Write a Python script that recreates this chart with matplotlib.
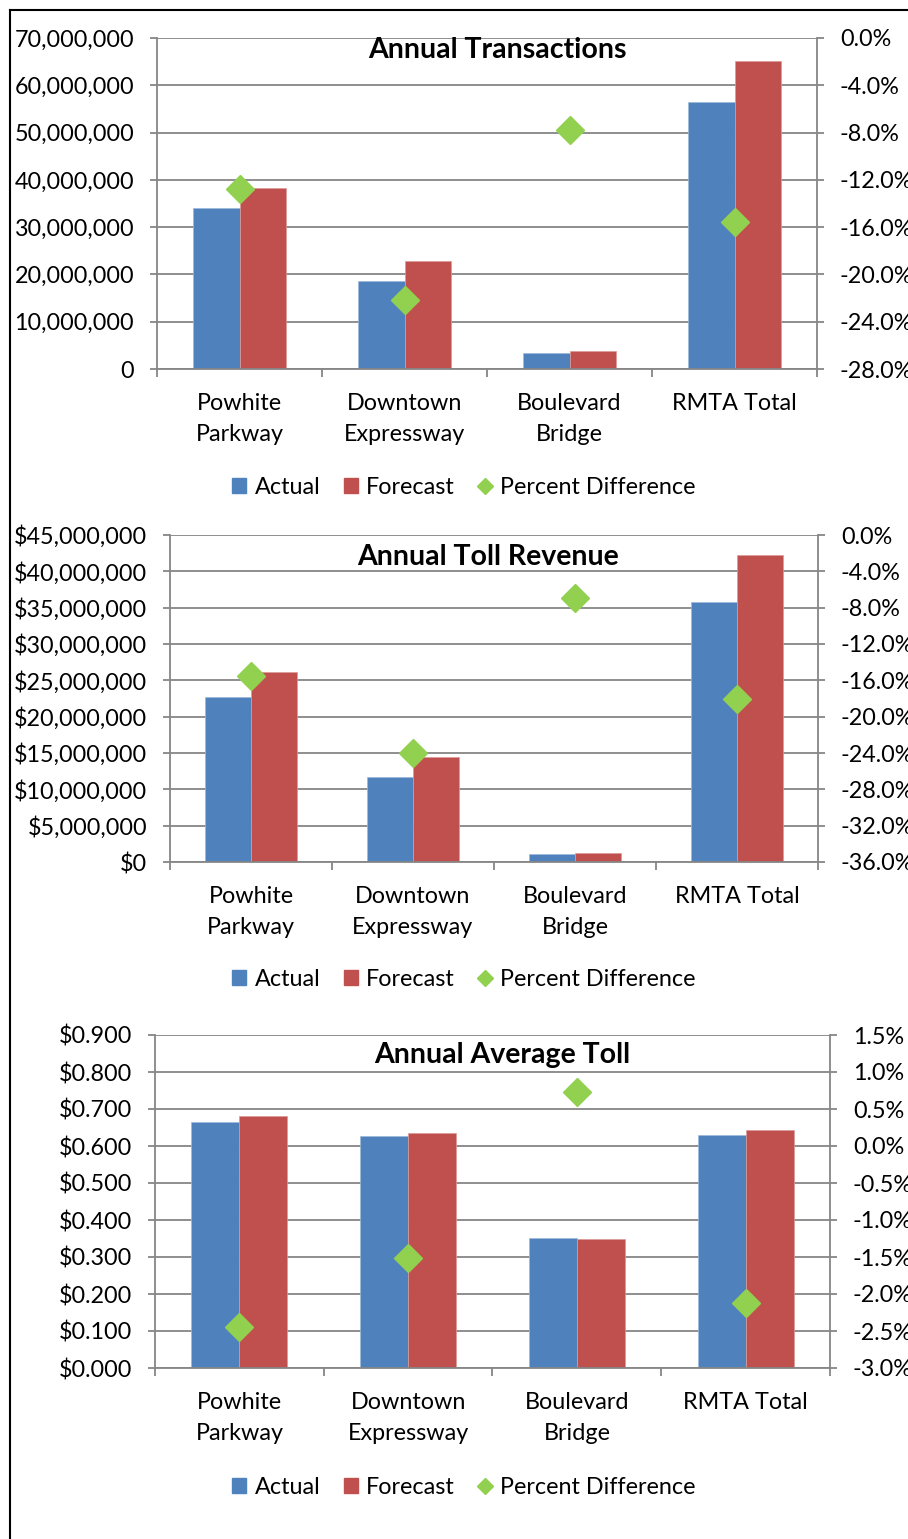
import numpy as np
import matplotlib
matplotlib.use('Agg')
import matplotlib.pyplot as plt
from matplotlib.patches import Patch
from matplotlib.lines import Line2D
from matplotlib.ticker import FuncFormatter, MultipleLocator

plt.rcParams['font.family'] = ['Lato', 'DejaVu Sans']

W, H = 908, 1539
FS = 16.8

categories = ['Powhite\nParkway', 'Downtown\nExpressway', 'Boulevard\nBridge', 'RMTA Total']

trans_actual = [34.05e6, 18.6e6, 3.4e6, 56.5e6]
trans_forecast = [38.3e6, 22.8e6, 3.8e6, 65.1e6]
trans_pct = [-12.8, -22.2, -7.8, -15.6]

revenue_actual = [22.7e6, 11.7e6, 1.1e6, 35.8e6]
revenue_forecast = [26.1e6, 14.45e6, 1.24e6, 42.2e6]
revenue_pct = [-15.5, -24.0, -6.9, -18.1]

toll_actual = [0.665, 0.627, 0.352, 0.630]
toll_forecast = [0.681, 0.635, 0.350, 0.643]
toll_pct = [-2.45, -1.51, 0.73, -2.12]

BLUE = '#4F81BD'
RED = '#C0504D'
GREEN = '#92D050'
GRID = '#868686'

fig = plt.figure(figsize=(W / 100, H / 100), dpi=100)


def px_axes(left, right, top, bottom):
    return fig.add_axes([left / W, 1 - bottom / H, (right - left) / W, (bottom - top) / H])


def make_chart(box, title, title_xy, actual, forecast, pct, ylim, ystep, yfmt,
               plim, pstep, legend_y):
    ax = px_axes(*box)
    x = np.arange(len(categories))
    w = 0.284
    ax.bar(x - w / 2, actual, w, color=BLUE, edgecolor='#9DB8DA', linewidth=0.5, zorder=2)
    ax.bar(x + w / 2, forecast, w, color=RED, edgecolor='#DA9B99', linewidth=0.5, zorder=2)
    ax.set_xlim(-0.5, len(categories) - 0.5)
    ax.set_ylim(*ylim)
    ax.yaxis.set_major_locator(MultipleLocator(ystep))
    ax.yaxis.set_major_formatter(FuncFormatter(yfmt))
    ax.grid(axis='y', color=GRID, linewidth=1.3, zorder=0)
    ax.set_axisbelow(True)
    ax.set_xticks(x)
    ax.set_xticklabels(categories, fontsize=FS, linespacing=1.6)
    ax.set_xticks(np.arange(-0.5, len(categories)), minor=True)
    ax.tick_params(axis='x', which='major', length=0, pad=17)
    ax.tick_params(axis='x', which='minor', length=5.5, width=1.3, color=GRID)
    ax.tick_params(axis='y', length=5, width=1.3, color=GRID, pad=11.5, labelsize=FS)
    for s in ['top', 'right']:
        ax.spines[s].set_visible(False)
    for s in ['left', 'bottom']:
        ax.spines[s].set_color(GRID)
        ax.spines[s].set_linewidth(1.3)

    ax2 = ax.twinx()
    ax2.plot(x, pct, linestyle='none', marker='D', markersize=14, color=GREEN, zorder=5)
    ax2.set_ylim(*plim)
    ax2.yaxis.set_major_locator(MultipleLocator(pstep))
    ax2.yaxis.set_major_formatter(FuncFormatter(lambda v, p: '{:.1f}%'.format(v)))
    ax2.tick_params(axis='y', length=5, width=1.3, color=GRID, pad=11.5, labelsize=FS)
    for s in ['top', 'left', 'bottom']:
        ax2.spines[s].set_visible(False)
    ax2.spines['right'].set_color(GRID)
    ax2.spines['right'].set_linewidth(1.3)

    fig.text(title_xy[0] / W, 1 - title_xy[1] / H, title, fontsize=20.5, fontweight='bold',
             ha='center', va='center')

    handles = [Patch(color=BLUE), Patch(color=RED),
               Line2D([], [], linestyle='none', marker='D', markersize=8, color=GREEN)]
    fig.legend(handles, ['Actual', 'Forecast', 'Percent Difference'], ncol=3,
               loc='center', bbox_to_anchor=(464 / W, 1 - legend_y / H), frameon=False,
               fontsize=FS, handlelength=0.6, handleheight=0.6, handletextpad=0.35,
               columnspacing=1.0)


make_chart((157, 817, 38, 369), 'Annual Transactions', (497, 50),
           trans_actual, trans_forecast, trans_pct,
           (0, 70e6), 10e6, lambda v, p: '{:,.0f}'.format(v),
           (-28, 0), 4, 487)

make_chart((170, 818, 535, 862), 'Annual Toll Revenue', (488, 557),
           revenue_actual, revenue_forecast, revenue_pct,
           (0, 45e6), 5e6, lambda v, p: '${:,.0f}'.format(v),
           (-36, 0), 4, 979)

make_chart((155, 830, 1035, 1368), 'Annual Average Toll', (502, 1055),
           toll_actual, toll_forecast, toll_pct,
           (0, 0.9), 0.1, lambda v, p: '${:.3f}'.format(v),
           (-3.0, 1.5), 0.5, 1487)

# outer frame, only left and top edges are visible
fig.add_artist(Line2D([10 / W, 10 / W], [0, 1 - 10 / H], color='black', linewidth=1.5,
                      transform=fig.transFigure))
fig.add_artist(Line2D([10 / W, 1], [1 - 10 / H, 1 - 10 / H], color='black', linewidth=1.5,
                      transform=fig.transFigure))

fig.savefig('out.png', dpi=100)
